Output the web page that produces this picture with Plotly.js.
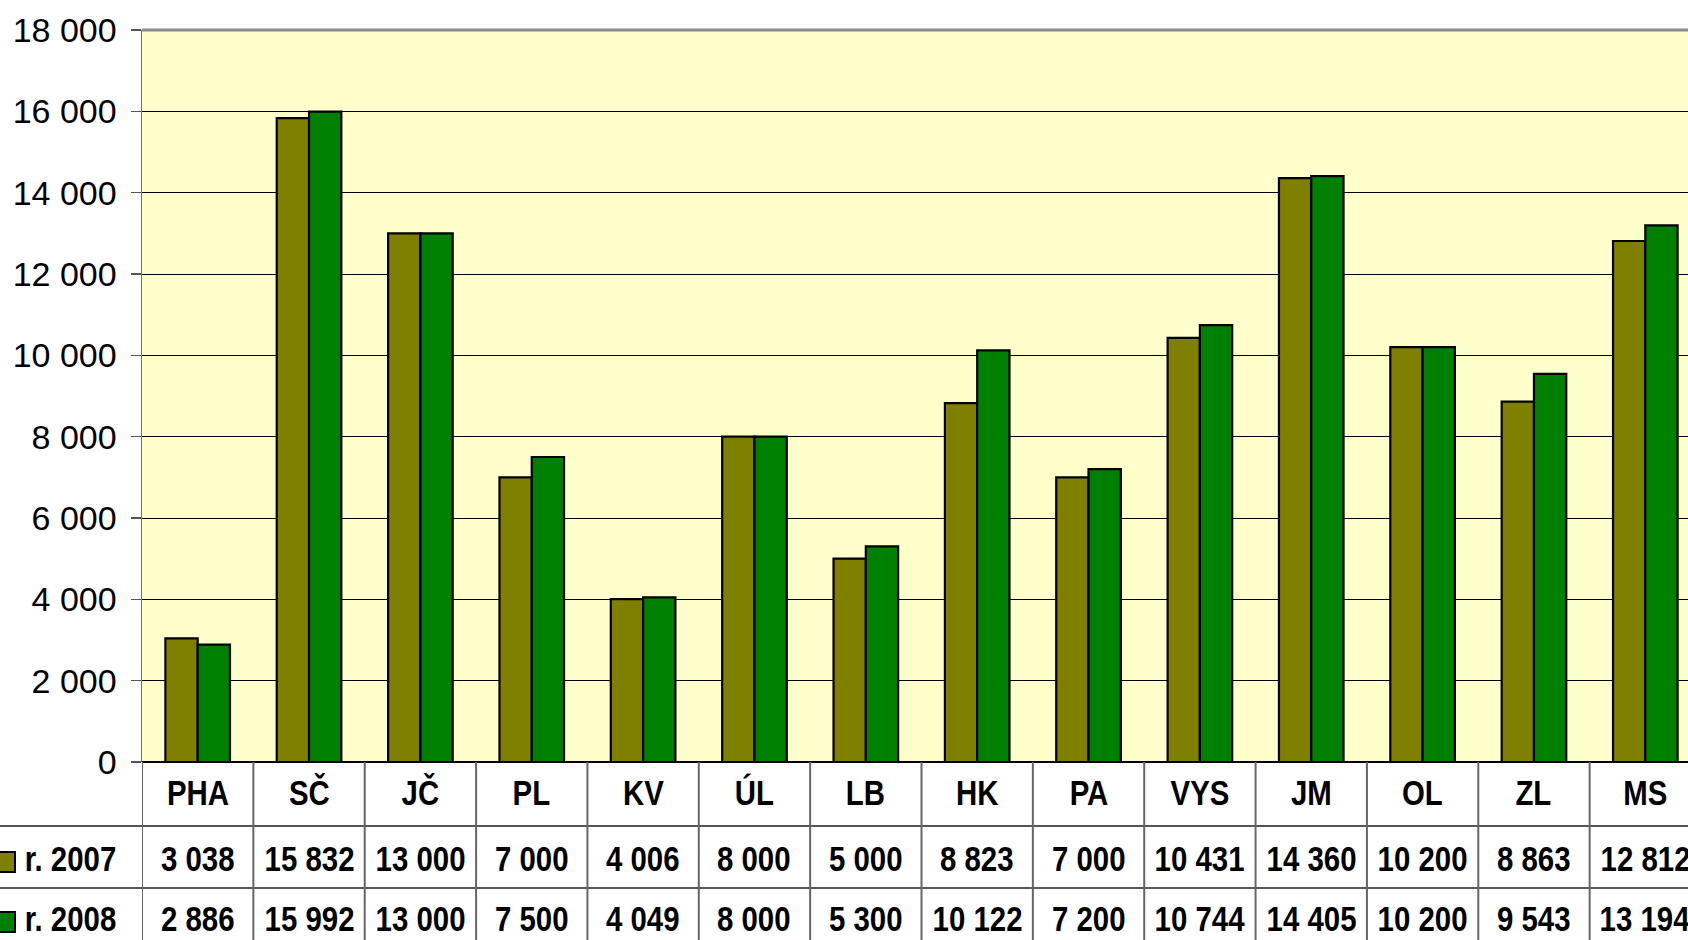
<!DOCTYPE html>
<html>
<head>
<meta charset="utf-8">
<script src="https://cdn.plot.ly/plotly-3.0.1.min.js"></script>
<style>
html, body { margin: 0; padding: 0; overflow: hidden; background: #ffffff; }
#chart { width: 1701px; height: 940px; }
#chart .annotation-text { transform-box: fill-box; transform-origin: center; transform: scaleX(0.84); }
</style>
</head>
<body>
<div id="chart"></div>
<script>
const categories = ['PHA', 'SČ', 'JČ', 'PL', 'KV', 'ÚL', 'LB', 'HK', 'PA', 'VYS', 'JM', 'OL', 'ZL', 'MS'];
const values2007 = [3038, 15832, 13000, 7000, 4006, 8000, 5000, 8823, 7000, 10431, 14360, 10200, 8863, 12812];
const values2008 = [2886, 15992, 13000, 7500, 4049, 8000, 5300, 10122, 7200, 10744, 14405, 10200, 9543, 13194];
const seriesNames = ['r. 2007', 'r. 2008'];
const seriesColors = ['#808000', '#008000'];
const yTickValues = [0, 2000, 4000, 6000, 8000, 10000, 12000, 14000, 16000, 18000];

// geometry (pixels)
const W = 1701, H = 940;
const ML = 142, MT = 30, MB = 178, MR = 0;
const PW = W - ML - MR, PH = H - MT - MB;
const px2paperX = p => (p - ML) / PW;
const py2paperY = p => (H - MB - p) / PH;

const fmt = n => String(n).replace(/\B(?=(\d{3})+(?!\d))/g, ' ');

const tableFont = { family: '"Liberation Sans Narrow", "Arial Narrow", "Liberation Sans", Arial, sans-serif', size: 35, color: '#000', weight: 'bold' };

const traces = [values2007, values2008].map((vals, i) => ({
  type: 'bar',
  name: seriesNames[i],
  x: categories,
  y: vals,
  marker: { color: seriesColors[i], line: { color: '#000', width: 2.2 } },
  hoverinfo: 'x+y+name',
  showlegend: false
}));

const rowLines = [826, 888];
const headerCenter = 792;
const rowCenters = [858, 918];
const shapes = [];
const annotations = [];

// horizontal table lines
rowLines.forEach((y, k) => {
  shapes.push({ type: 'line', xref: 'paper', yref: 'paper', x0: px2paperX(0), x1: 1.05, y0: py2paperY(y), y1: py2paperY(y),
    line: { color: k === 0 ? '#555' : '#222', width: k === 0 ? 2 : 1.5 } });
});
// vertical table lines
for (let k = 0; k <= categories.length; k++) {
  shapes.push({ type: 'line', xref: 'x', yref: 'paper', x0: k - 0.5, x1: k - 0.5, y0: 0, y1: py2paperY(H + 5),
    line: { color: '#666', width: 2 } });
}
// top border of plot area
shapes.push({ type: 'line', xref: 'paper', yref: 'paper', x0: 0, x1: 1.05, y0: 1, y1: 1, line: { color: '#8c8c8c', width: 3 } });

// category header row
categories.forEach((c, j) => {
  annotations.push({ xref: 'x', yref: 'paper', x: j, y: py2paperY(headerCenter), xanchor: 'center', yanchor: 'middle',
    text: c, showarrow: false, font: tableFont });
});

// legend keys, row labels and values
[values2007, values2008].forEach((vals, i) => {
  const cy = rowCenters[i] + 4;
  shapes.push({ type: 'rect', xref: 'paper', yref: 'paper', x0: px2paperX(-5), x1: px2paperX(15), y0: py2paperY(cy - 10), y1: py2paperY(cy + 10),
    fillcolor: seriesColors[i], line: { color: '#000', width: 2 } });
  annotations.push({ xref: 'paper', yref: 'paper', x: px2paperX(70), y: py2paperY(rowCenters[i]), xanchor: 'center', yanchor: 'middle',
    text: seriesNames[i], showarrow: false, font: tableFont });
  vals.forEach((v, j) => {
    annotations.push({ xref: 'x', yref: 'paper', x: j, y: py2paperY(rowCenters[i]), xanchor: 'center', yanchor: 'middle',
      text: fmt(v), showarrow: false, font: tableFont });
  });
});

const layout = {
  width: W, height: H, autosize: false,
  margin: { l: ML, r: MR, t: MT, b: MB, pad: 0 },
  paper_bgcolor: '#ffffff',
  plot_bgcolor: '#ffffcc',
  separators: ', ',
  barmode: 'group',
  bargap: 0.42,
  bargroupgap: 0,
  showlegend: false,
  xaxis: {
    type: 'category',
    range: [-0.5, categories.length - 0.5],
    showgrid: false,
    showline: false,
    ticks: '',
    showticklabels: false,
    fixedrange: true
  },
  yaxis: {
    range: [0, 18000],
    tickvals: yTickValues,
    tickformat: ',d',
    showgrid: true,
    gridcolor: '#000',
    gridwidth: 1,
    zeroline: true,
    zerolinecolor: '#000',
    zerolinewidth: 2,
    showline: true,
    linecolor: '#707070',
    linewidth: 1.5,
    ticks: 'outside',
    ticklen: 10,
    tickwidth: 1.5,
    tickcolor: '#555',
    ticklabelstandoff: 7,
    tickfont: { family: '"Liberation Sans", Arial, sans-serif', size: 34, color: '#000' },
    fixedrange: true
  },
  shapes: shapes,
  annotations: annotations
};

Plotly.newPlot('chart', traces, layout, { displayModeBar: false, staticPlot: true });
</script>
</body>
</html>
